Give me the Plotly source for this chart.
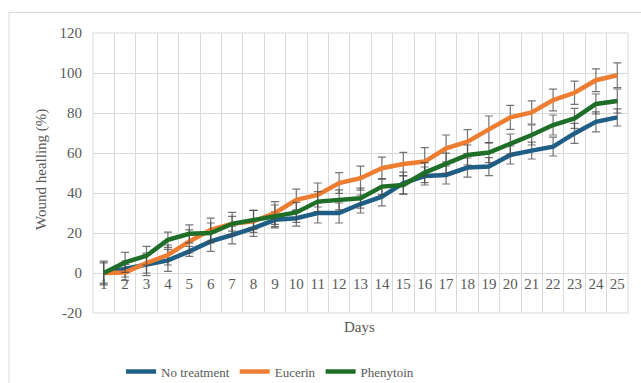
import plotly.graph_objects as go

# Days of treatment
days = [str(d) for d in range(1, 26)]

# Mean wound healing (%) per group
no_treatment = [0, 2, 4, 6.3, 10.8, 15.8, 19, 22.4, 26.6, 27.4, 30, 30, 34.5,
                38.2, 44.9, 48.5, 49, 52.7, 53.2, 59, 61.2, 63.2, 69.8, 75.6, 77.8]
eucerin = [0, 0.3, 5, 9, 15.8, 21.6, 24.6, 25.8, 30, 36.6, 39, 45, 47.4,
           52.4, 54.5, 55.7, 62.3, 65.7, 71.8, 77.8, 80.3, 86.5, 90.1, 96.4, 98.9]
phenytoin = [0, 5.3, 8.6, 16.6, 19.6, 20, 24.6, 26.6, 28.6, 30.3, 35.7, 36.6, 37.4,
             43.2, 44, 50.2, 54.9, 59, 60.2, 64.5, 69, 74, 77.3, 84.5, 86]

# Standard deviations
no_treatment_sd = [5.5, 4, 5.3, 5.5, 2.5, 5, 4.4, 4.1, 4, 4, 5, 5, 4.5,
                   4.6, 5.5, 4.5, 4.5, 4.8, 4.5, 4.5, 4.2, 4.7, 5, 5, 4.3]
eucerin_sd = [6, 4, 5, 5, 5.8, 5.8, 5.7, 5.5, 5.7, 5.3, 6, 5.2, 6,
              5.5, 5.8, 7, 6.7, 6, 6.7, 6, 5.8, 5.4, 5.8, 5.7, 6.2]
phenytoin_sd = [5, 5, 4.7, 3.8, 4.5, 5, 3.7, 4.7, 5.4, 5, 5, 5, 5,
                4, 4.5, 5, 5, 5, 5, 5, 5, 5, 5, 5, 6]

# Y axis ticks
y_ticks = [-20, 0, 20, 40, 60, 80, 100, 120]
y_tick_labels = ["-20", "0", "20", "40", "60", "80", "100", "120"]

series = [
    ("No treatment", no_treatment, no_treatment_sd, "#1f5f86"),
    ("Eucerin", eucerin, eucerin_sd, "#ed7d31"),
    ("Phenytoin", phenytoin, phenytoin_sd, "#1e6e28"),
]

FONT = "Liberation Serif"
GREY = "#595959"
GRID = "#d9d9d9"

fig = go.Figure()
for name, vals, sd, color in series:
    fig.add_trace(go.Scatter(
        x=days, y=vals, name=name, mode="lines",
        line=dict(color=color, width=4.5),
        error_y=dict(type="data", array=sd, visible=True,
                     color="rgba(70,70,70,0.75)", thickness=1.2, width=4),
    ))

fig.update_layout(
    width=641, height=383,
    margin=dict(l=93, r=13, t=33, b=70, autoexpand=False),
    paper_bgcolor="white", plot_bgcolor="white",
    font=dict(family=FONT, size=15, color=GREY),
    showlegend=True,
    legend=dict(orientation="h", x=0.331, xanchor="center",
                y=-0.209, yanchor="middle",
                font=dict(family=FONT, size=13, color=GREY),
                itemwidth=30, tracegroupgap=0),
    xaxis=dict(
        type="category", tickson="boundaries",
        range=[-0.5, 24.5], autorange=False,
        anchor="free", position=20 / 140,
        showgrid=True, gridcolor=GRID, gridwidth=1,
        showline=False, ticks="", zeroline=False, tickangle=0,
        tickfont=dict(family=FONT, size=15, color=GREY),
    ),
    yaxis=dict(
        range=[-20, 120], autorange=False,
        tickvals=y_ticks, ticktext=y_tick_labels,
        showgrid=True, gridcolor=GRID, gridwidth=1,
        zeroline=False, showline=False, ticks="",
        ticklabelstandoff=10,
        tickfont=dict(family=FONT, size=15, color=GREY),
    ),
    shapes=[
        # plot-area frame
        dict(type="rect", xref="paper", yref="paper", x0=0, x1=1, y0=0, y1=1,
             line=dict(color=GRID, width=1), layer="below"),
        # outer chart border
        dict(type="rect", xref="paper", yref="paper", x0=-0.157, x1=1.2,
             y0=-0.4, y1=1.0737, line=dict(color=GRID, width=1), layer="below"),
    ],
    annotations=[
        dict(text="Wound healling (%)", xref="paper", yref="paper",
             x=-0.0953, y=0.511, textangle=-90, showarrow=False,
             xanchor="center", yanchor="middle",
             font=dict(family=FONT, size=15, color=GREY)),
        dict(text="Days", xref="paper", yref="paper",
             x=0.499, y=-0.05, showarrow=False,
             xanchor="center", yanchor="middle",
             font=dict(family=FONT, size=15, color=GREY)),
    ],
)

fig.write_html("out.html")
